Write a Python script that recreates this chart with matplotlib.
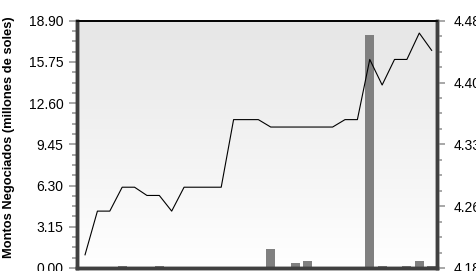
import numpy as np
import matplotlib
matplotlib.use('Agg')
import matplotlib.pyplot as plt
from matplotlib.ticker import FixedLocator
from matplotlib.colors import LinearSegmentedColormap

# Montos negociados (millones de soles) - barras, eje izquierdo
montos = [0.00, 0.00, 0.00, 0.12, 0.00, 0.00, 0.12, 0.00, 0.00, 0.00,
          0.00, 0.00, 0.00, 0.00, 0.00, 1.45, 0.00, 0.38, 0.55, 0.00,
          0.00, 0.00, 0.00, 17.83, 0.15, 0.00, 0.12, 0.55, 0.12]

# Cotización - línea, eje derecho
precios = [4.196, 4.249, 4.249, 4.278, 4.278, 4.268, 4.268, 4.249, 4.278, 4.278,
           4.278, 4.278, 4.360, 4.360, 4.360, 4.351, 4.351, 4.351, 4.351, 4.351,
           4.351, 4.360, 4.360, 4.433, 4.402, 4.433, 4.433, 4.465, 4.444]

ticks_izq = [0.00, 3.15, 6.30, 9.45, 12.60, 15.75, 18.90]
ticks_der = [4.18, 4.255, 4.33, 4.405, 4.48]
etiquetas_der = ['4.18', '4.26', '4.33', '4.40', '4.48']

plt.rcParams['font.family'] = ['Liberation Sans', 'DejaVu Sans']

fig = plt.figure(figsize=(4.77, 2.71), dpi=100)
ax = fig.add_axes([0.1614, 0.0111, 0.7547, 0.9125])

x = np.arange(len(montos))
x0, x1 = -0.65, len(montos) - 1 + 0.43
ax.set_xlim(x0, x1)
ax.set_ylim(0, 18.9)

# fondo degradado: gris claro arriba, blanco abajo
cmap = LinearSegmentedColormap.from_list('fondo', ['#ffffff', '#e6e6e6'])
ax.imshow(np.linspace(0, 1, 256).reshape(-1, 1), extent=[x0, x1, 0, 18.9],
          aspect='auto', origin='lower', cmap=cmap, zorder=0)

ax.bar(x, montos, width=0.72, color='#808080', zorder=2)

ax.yaxis.set_major_locator(FixedLocator(ticks_izq))
ax.set_yticklabels(['%.2f' % t for t in ticks_izq])
ax.yaxis.set_minor_locator(FixedLocator(np.arange(0, 18.91, 0.7875)))
ax.set_xticks([])
ax.set_ylabel('Montos Negociados (millones de soles)', fontsize=9.3,
              fontweight='bold')
ax.yaxis.set_label_coords(-0.172, 0.53)

ax2 = ax.twinx()
ax2.plot(x, precios, color='black', linewidth=0.8, zorder=3)
ax2.set_ylim(4.18, 4.48)
ax2.yaxis.set_major_locator(FixedLocator(ticks_der))
ax2.set_yticklabels(etiquetas_der)
ax2.yaxis.set_minor_locator(FixedLocator(np.linspace(4.18, 4.48, 17)))

for a, separacion in ((ax, 4), (ax2, 6.5)):
    a.tick_params(axis='y', which='major', length=5.8, width=1.3, color='#a0a0a0',
                  labelsize=10, pad=separacion)
    a.tick_params(axis='y', which='minor', length=3.5, width=1.3, color='#a0a0a0')
    for lado in ('left', 'right', 'bottom'):
        a.spines[lado].set_color('#404040')
        a.spines[lado].set_linewidth(2.5)
    a.spines['top'].set_color('black')
    a.spines['top'].set_linewidth(1.2)

fig.savefig('out.png', dpi=100)
